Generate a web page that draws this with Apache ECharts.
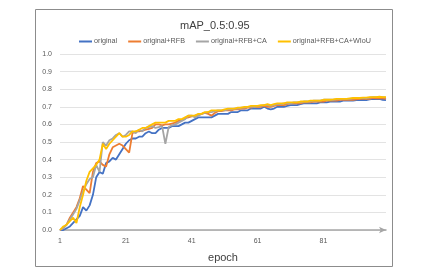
<!DOCTYPE html>
<html><head><meta charset="utf-8">
<script src="https://cdn.jsdelivr.net/npm/echarts@6/dist/echarts.min.js"></script>
<style>html,body{margin:0;padding:0;background:#fff}#c{width:438px;height:280px}</style>
</head><body><div id="c"></div>
<script>
const epochs = Array.from({length:100},(_, i)=>String(i+1));
const seriesNames = ['original','original+RFB','original+RFB+CA','original+RFB+CA+WIoU'];
const original = [0.00,0.00,0.01,0.02,0.04,0.06,0.08,0.13,0.11,0.14,
0.20,0.30,0.33,0.32,0.38,0.39,0.41,0.40,0.43,0.46,
0.49,0.51,0.52,0.52,0.53,0.53,0.55,0.56,0.55,0.55,
0.57,0.58,0.58,0.58,0.59,0.59,0.59,0.60,0.61,0.61,
0.62,0.63,0.64,0.64,0.64,0.64,0.64,0.65,0.66,0.66,
0.66,0.66,0.67,0.67,0.67,0.68,0.68,0.68,0.69,0.69,
0.69,0.69,0.70,0.69,0.685,0.69,0.70,0.70,0.70,0.705,
0.71,0.71,0.71,0.715,0.72,0.72,0.72,0.72,0.72,0.725,
0.725,0.725,0.73,0.73,0.73,0.73,0.735,0.735,0.735,0.735,
0.738,0.738,0.74,0.738,0.742,0.745,0.744,0.745,0.74,0.738];
const rfb = [0.00,0.01,0.03,0.07,0.10,0.13,0.18,0.25,0.23,0.21,
0.33,0.38,0.39,0.37,0.36,0.43,0.47,0.48,0.49,0.48,
0.46,0.44,0.55,0.56,0.56,0.565,0.57,0.575,0.58,0.60,
0.60,0.595,0.60,0.60,0.605,0.61,0.62,0.625,0.635,0.64,
0.645,0.65,0.655,0.66,0.665,0.66,0.65,0.665,0.675,0.675,
0.68,0.68,0.68,0.685,0.685,0.69,0.69,0.695,0.695,0.70,
0.70,0.70,0.705,0.70,0.70,0.705,0.71,0.71,0.71,0.715,
0.72,0.72,0.72,0.72,0.725,0.725,0.725,0.73,0.73,0.73,
0.73,0.735,0.735,0.735,0.735,0.74,0.74,0.74,0.74,0.74,
0.742,0.745,0.745,0.745,0.745,0.75,0.748,0.75,0.748,0.745];
const rfbCa = [0.00,0.01,0.03,0.06,0.09,0.12,0.17,0.22,0.26,0.29,
0.30,0.37,0.33,0.50,0.48,0.51,0.52,0.54,0.55,0.53,
0.54,0.56,0.56,0.55,0.57,0.56,0.58,0.585,0.59,0.58,
0.585,0.59,0.49,0.585,0.595,0.60,0.61,0.62,0.63,0.65,
0.65,0.64,0.65,0.66,0.665,0.67,0.67,0.675,0.68,0.68,
0.68,0.685,0.685,0.69,0.69,0.695,0.695,0.70,0.70,0.70,
0.705,0.705,0.71,0.71,0.705,0.71,0.715,0.715,0.72,0.72,
0.72,0.725,0.725,0.725,0.73,0.73,0.73,0.735,0.735,0.735,
0.74,0.74,0.74,0.74,0.742,0.745,0.745,0.745,0.745,0.748,
0.75,0.75,0.75,0.75,0.752,0.755,0.755,0.755,0.755,0.752];
const rfbCaWiou = [0.00,0.02,0.03,0.05,0.07,0.04,0.13,0.20,0.28,0.33,
0.35,0.37,0.40,0.49,0.46,0.49,0.51,0.53,0.55,0.53,
0.53,0.54,0.56,0.56,0.57,0.58,0.58,0.59,0.60,0.61,
0.61,0.61,0.61,0.62,0.62,0.62,0.63,0.63,0.64,0.65,
0.65,0.65,0.66,0.66,0.67,0.67,0.68,0.68,0.68,0.68,
0.685,0.69,0.69,0.69,0.695,0.695,0.70,0.70,0.705,0.705,
0.705,0.71,0.71,0.715,0.71,0.715,0.72,0.72,0.72,0.725,
0.725,0.725,0.725,0.73,0.73,0.73,0.735,0.735,0.735,0.735,
0.74,0.74,0.74,0.742,0.745,0.745,0.745,0.745,0.748,0.75,
0.75,0.75,0.752,0.752,0.755,0.755,0.755,0.757,0.755,0.755];
const colors = ['#4472C4','#ED7D31','#A5A5A5','#FFC000'];
const values = [original, rfb, rfbCa, rfbCaWiou];

const chart = echarts.init(document.getElementById('c'));
const font = 'Liberation Sans, Arial, sans-serif';
chart.setOption({
  animation:false,
  graphic:[{type:'rect',shape:{x:35.5,y:9.5,width:357,height:257},style:{fill:'none',stroke:'#8c8c8c',lineWidth:1},silent:true}],
  title:{text:'mAP_0.5:0.95',left:175,top:15,textStyle:{fontFamily:font,fontSize:11,fontWeight:'normal',color:'#404040'}},
  legend:{top:33,left:74,itemGap:11,itemWidth:13,itemHeight:2,icon:'rect',
    textStyle:{fontFamily:font,fontSize:7.2,color:'#595959',padding:[0,0,0,-3]},data:seriesNames},
  grid:{left:60,right:52,top:54,bottom:50},
  xAxis:{type:'category',data:epochs,boundaryGap:false,
    name:'epoch',nameLocation:'middle',nameGap:22,nameTextStyle:{fontFamily:font,fontSize:11,color:'#404040'},
    axisLine:{lineStyle:{color:'#a6a6a6',width:1.5},symbol:['none','arrow'],symbolSize:[5,7]},
    axisTick:{show:false},
    axisLabel:{interval:19,fontFamily:font,fontSize:7,color:'#595959',margin:8}},
  yAxis:{type:'value',min:0,max:1,interval:0.1,
    axisLine:{show:false},axisTick:{show:false},
    splitLine:{lineStyle:{color:'#e3e3e3',width:1}},
    axisLabel:{formatter:v=>v.toFixed(1),fontFamily:font,fontSize:7,color:'#595959',margin:8}},
  series:seriesNames.map((n,i)=>({name:n,type:'line',data:values[i],showSymbol:false,symbol:'none',
    lineStyle:{color:colors[i],width:1.8},itemStyle:{color:colors[i]}}))
});
</script></body></html>
